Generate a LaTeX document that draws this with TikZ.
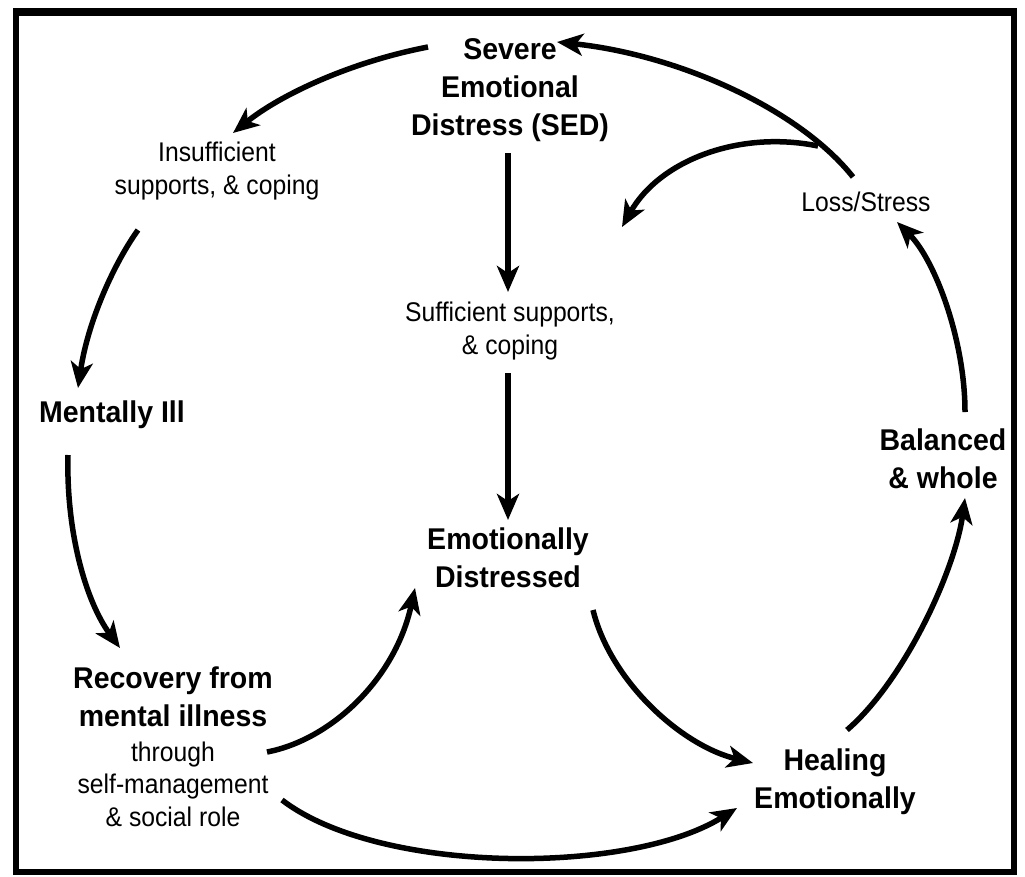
\documentclass[tikz,border=0pt]{standalone}
\usepackage{fontspec}
\setmainfont{Liberation Sans}
\newfontfamily\bfam[FakeStretch=0.95]{Liberation Sans}
\newfontfamily\rfam[FakeStretch=0.915]{Liberation Sans}
\usetikzlibrary{arrows.meta}
\tikzset{
  bigtxt/.style={font=\bfam\bfseries\fontsize{30}{38}\selectfont, align=center, inner sep=0pt},
  smalltxt/.style={font=\rfam\fontsize{27}{32.5}\selectfont, align=center, inner sep=0pt},
  arr/.style={line width=5.5pt, -{Stealth[length=26pt, width=22pt, inset=7pt]}},
  frame/.style={line width=6pt}
}
\begin{document}
\begin{tikzpicture}[x=1pt, y=-1pt]
\useasboundingbox (0,0) rectangle (1025,876);
\fill[white] (0,0) rectangle (1025,876);
\draw[frame] (16,12.5) rectangle (1013.5,872);
\draw[line width=8pt] (13,12) -- (1016.5,12);

% nodes
\node[bigtxt] (sed) at (510,90) {Severe\\Emotional\\Distress (SED)};
\node[smalltxt] (insuf) at (217,171) {Insufficient\\supports, \& coping};
\node[bigtxt] (mill) at (112,415) {Mentally Ill};
\node[bigtxt] (rec) at (173,697) {Recovery from\\mental illness};
\node[smalltxt] (recsub) at (173,784) {through\\self-management\\\& social role};
\node[smalltxt] (suff) at (510,331) {Sufficient supports,\\\& coping};
\node[bigtxt] (emd) at (508,558) {Emotionally\\Distressed};
\node[smalltxt] (loss) at (866,202) {Loss/Stress};
\node[bigtxt] (bal) at (943,459) {Balanced\\\& whole};
\node[bigtxt] (heal) at (835,782) {Healing\\Emotionally};

% connector end points
\coordinate (a1s) at (428,47);   \coordinate (a1e) at (233,133);
\coordinate (a2s) at (138,230);  \coordinate (a2e) at (78,388);
\coordinate (a3s) at (68,455);   \coordinate (a3e) at (120,648);
\coordinate (a4s) at (267,752);  \coordinate (a4e) at (415,588);
\coordinate (a5s) at (282,800);  \coordinate (a5e) at (737,808);
\coordinate (a6s) at (508,153);  \coordinate (a6e) at (508,292);
\coordinate (a7s) at (508,373);  \coordinate (a7e) at (508,520);
\coordinate (a8s) at (593,610);  \coordinate (a8e) at (753,763);
\coordinate (a9s) at (847,730);  \coordinate (a9e) at (965,498);
\coordinate (a10s) at (965,412); \coordinate (a10e) at (897,222);
\coordinate (a11s) at (853,177); \coordinate (a11e) at (557,42);
\coordinate (a12s) at (818,146); \coordinate (a12e) at (622,227);

\draw[arr] (a1s) .. controls (350,62) and (280,95) .. (a1e);
\draw[arr] (a2s) .. controls (115,262) and (88,320) .. (a2e);
\draw[arr] (a3s) .. controls (66,530) and (85,600) .. (a3e);
\draw[arr] (a4s) .. controls (330,740) and (395,680) .. (a4e);
\draw[arr] (a5s) .. controls (380,875) and (630,875) .. (a5e);
\draw[arr] (a6s) -- (a6e);
\draw[arr] (a7s) -- (a7e);
\draw[arr] (a8s) .. controls (610,680) and (680,745) .. (a8e);
\draw[arr] (a9s) .. controls (905,680) and (955,570) .. (a9e);
\draw[arr] (a10s) .. controls (965,340) and (935,260) .. (a10e);
\draw[arr] (a11s) .. controls (800,110) and (680,55) .. (a11e);
\draw[arr] (a12s) .. controls (740,130) and (660,160) .. (a12e);
\end{tikzpicture}
\end{document}
